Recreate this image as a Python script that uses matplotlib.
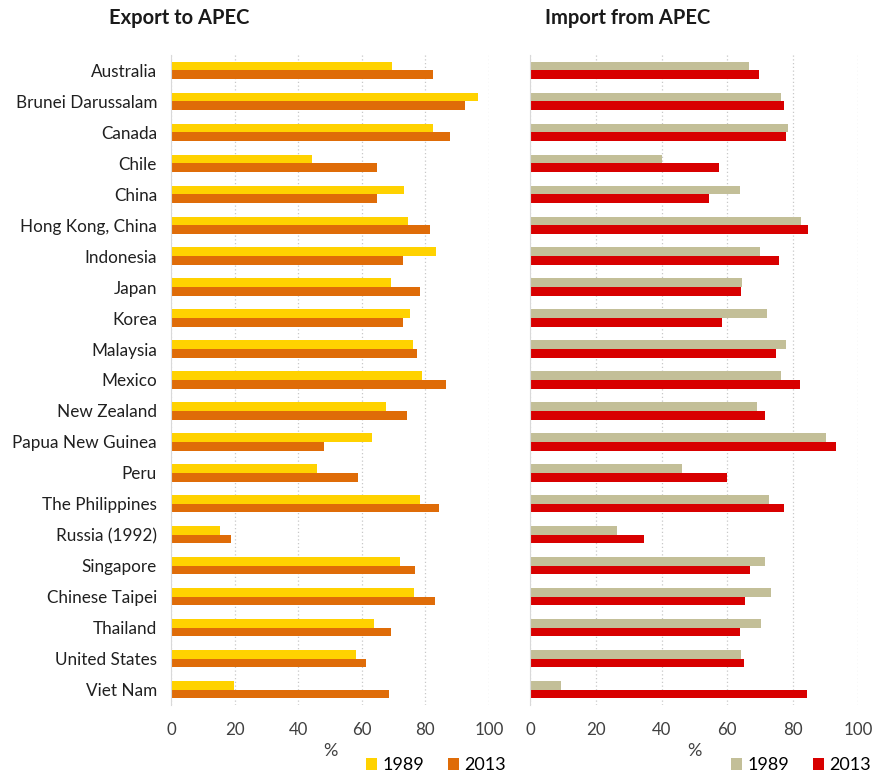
import numpy as np
import matplotlib
matplotlib.use("Agg")
import matplotlib.pyplot as plt

plt.rcParams["font.family"] = ["Lato", "DejaVu Sans"]

economies = ["Australia", "Brunei Darussalam", "Canada", "Chile", "China",
             "Hong Kong, China", "Indonesia", "Japan", "Korea", "Malaysia",
             "Mexico", "New Zealand", "Papua New Guinea", "Peru",
             "The Philippines", "Russia (1992)", "Singapore", "Chinese Taipei",
             "Thailand", "United States", "Viet Nam"]

export_1989 = [69.5, 96.5, 82.4, 44.3, 73.3, 74.5, 83.3, 69.2, 75.2, 76.1,
               78.9, 67.6, 63.2, 45.9, 78.3, 15.4, 72.0, 76.4, 63.8, 58.2, 19.8]
export_2013 = [82.4, 92.5, 87.7, 64.8, 64.8, 81.4, 73.0, 78.3, 73.0, 77.4,
               86.5, 74.2, 48.1, 58.8, 84.3, 18.9, 76.7, 83.0, 69.2, 61.3, 68.6]

import_1989 = [66.8, 76.3, 78.5, 40.2, 63.9, 82.6, 69.9, 64.5, 72.1, 77.8,
               76.3, 69.1, 90.2, 46.3, 72.9, 26.4, 71.4, 73.3, 70.3, 64.3, 9.4]
import_2013 = [69.6, 77.4, 78.0, 57.5, 54.5, 84.7, 75.7, 64.2, 58.5, 74.8,
               82.1, 71.4, 93.3, 60.1, 77.4, 34.7, 66.9, 65.4, 63.8, 65.1, 84.2]

xticks = [0, 20, 40, 60, 80, 100]

fig = plt.figure(figsize=(8.75, 7.72), dpi=100)
ax1 = fig.add_axes([0.1954, 0.0868, 0.3634, 0.842])
ax2 = fig.add_axes([0.606, 0.0868, 0.375, 0.842])

y = np.arange(len(economies))
h = 0.28


def panel(ax, v89, v13, c89, c13, title, title_x, legend_x, show_labels):
    b1 = ax.barh(y - h / 2, v89, height=h, color=c89, label="1989")
    b2 = ax.barh(y + h / 2, v13, height=h, color=c13, label="2013")
    ax.set_ylim(len(economies) - 0.5, -0.5)
    ax.set_xlim(0, 100)
    ax.set_xticks(xticks)
    ax.tick_params(axis="x", length=0, pad=12, labelsize=12.2, colors="#404040")
    ax.tick_params(axis="y", length=0, pad=10, labelsize=12.3, colors="#202020")
    ax.set_yticks(y)
    if show_labels:
        ax.set_yticklabels(economies)
    else:
        ax.set_yticklabels([])
    ax.xaxis.grid(True, ls=(0, (1, 2)), color="#c8c8c8", lw=0.9)
    ax.set_axisbelow(True)
    for s in ["top", "right", "bottom"]:
        ax.spines[s].set_visible(False)
    ax.spines["left"].set_color("#d9d9d9")
    ax.set_xlabel("%", fontsize=13, color="#404040", labelpad=4)
    fig.legend(handles=[b1, b2], ncol=2, loc="lower right",
               bbox_to_anchor=(legend_x, -0.004), bbox_transform=fig.transFigure,
               frameon=False, handlelength=0.6, handleheight=0.6,
               handletextpad=0.3, columnspacing=1.3, fontsize=13,
               borderaxespad=0, borderpad=0.1)
    fig.text(title_x, 0.977, title, fontsize=14.5, fontweight="bold",
             color="#1a1a1a", va="center")


panel(ax1, export_1989, export_2013, "#FFD200", "#DF6C08",
      "Export to APEC", 0.125, 0.58, True)
panel(ax2, import_1989, import_2013, "#C3BF98", "#D80000",
      "Import from APEC", 0.623, 0.997, False)

fig.savefig("out.png", dpi=100)
